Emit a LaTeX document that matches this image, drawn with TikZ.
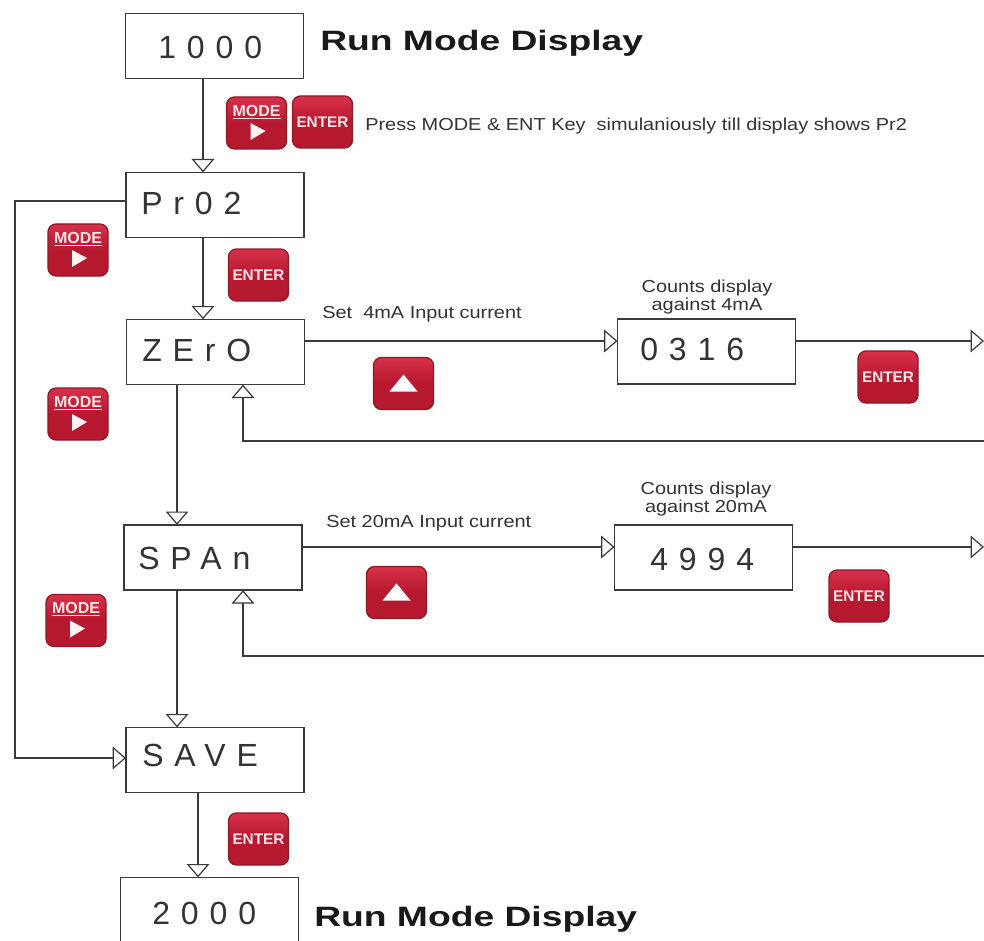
\documentclass[tikz,border=0pt]{standalone}
\usepackage{fontspec}
\setmainfont{Liberation Sans}
\newfontfamily\headfont{Liberation Sans}
\newfontfamily\dispfont[LetterSpace=34]{Liberation Sans}
\usetikzlibrary{arrows.meta,shapes.geometric,calc}
\definecolor{btnred}{HTML}{B5182F}
\definecolor{btndark}{HTML}{8E1A28}
\definecolor{btnlight}{HTML}{D8304A}
\definecolor{linegray}{HTML}{3A3A3A}
\definecolor{txtgray}{HTML}{333333}
\tikzset{
  x=0.75pt,y=-0.75pt,
  dispbox/.style={draw=linegray,line width=1.1pt,fill=white,minimum width=133.5pt,minimum height=49pt,inner sep=0pt,outer sep=0pt},
  disptext/.style={font=\dispfont\fontsize{24}{24}\selectfont,text=txtgray,anchor=west,inner sep=0pt},
  conn/.style={draw=linegray,line width=1pt,-{Triangle[open,fill=white,length=10pt,width=17pt,line width=0.9pt]}},
  btn/.style={draw=btndark,line width=1pt,rounded corners=6pt,top color=btnlight,bottom color=btnred,middle color=btnred,minimum width=45pt,minimum height=39pt,inner sep=0pt,text=white!90!red},
  entertxt/.style={font=\bfseries\fontsize{11.5}{11.5}\selectfont},
  modetxt/.style={font=\bfseries\fontsize{12}{12}\selectfont,text=white!90!red},
  note/.style={font=\fontsize{13}{13}\selectfont,text=txtgray,inner sep=0pt,align=center},
  head/.style={font=\headfont\bfseries\fontsize{21}{21}\selectfont,text=black!90,anchor=west,inner sep=0pt},
}
\newcommand{\modebtn}[2]{%
  \node[btn] (#1) at (#2) {};
  \node[modetxt] (#1t) at ($(#1.center)+(0,-11)$) {\underline{MODE}};
  \fill[white!95!red] ($(#1.center)+(-6,0)$) -- ($(#1.center)+(9,8)$) -- ($(#1.center)+(-6,17)$) -- cycle;
}
\newcommand{\enterbtn}[2]{%
  \node[btn,entertxt] (#1) at (#2) {ENTER};
}
\newcommand{\upbtn}[2]{%
  \node[btn] (#1) at (#2) {};
  \fill[white] ($(#1.center)+(-14,8)$) -- ($(#1.center)+(0,-9)$) -- ($(#1.center)+(14,8)$) -- cycle;
}
\newcommand{\wide}[1]{\scalebox{1.15}[1]{#1}}
\begin{document}
\begin{tikzpicture}
\useasboundingbox (0,0) rectangle (984,941);
\clip (0,0) rectangle (984,941);
\fill[white] (0,0) rectangle (984,941);
% display boxes
\node[dispbox] (run1) at (214.5,46) {};
\node[dispbox] (pr) at (215,205) {};
\node[dispbox] (zero) at (215.5,352) {};
\node[dispbox] (cnt4) at (706.5,351.5) {};
\node[dispbox] (span) at (213,557.5) {};
\node[dispbox] (cnt20) at (703.5,557.5) {};
\node[dispbox] (save) at (215,760) {};
\node[dispbox] (run2) at (209.5,910) {};
\node[disptext] (t1) at (158,47) {1000};
\node[disptext] (t2) at (141,203) {Pr02};
\node[disptext] (t3) at (142,350) {ZErO};
\node[disptext] (t4) at (640,349) {0316};
\node[disptext] (t5) at (138,558) {SPAn};
\node[disptext] (t6) at (650,559) {4994};
\node[disptext] (t7) at (142,755) {SAVE};
\node[disptext] (t8) at (152,913) {2000};
% free ends
\coordinate (out4) at (984,341);
\coordinate (back4) at (984,441);
\coordinate (out20) at (984,547);
\coordinate (back20) at (984,656);
% connectors
\draw[conn] (run1.south -| 203,0) -- (pr.north -| 203,0);
\draw[conn] (pr.south -| 203,0) -- (zero.north -| 203,0);
\draw[conn] (zero.south -| 177,0) -- (span.north -| 177,0);
\draw[conn] (span.south -| 177,0) -- (save.north -| 177,0);
\draw[conn] (save.south -| 198,0) -- (run2.north -| 198,0);
\draw[conn] (pr.west |- 0,201) -- (15,201) -- (15,758) -- (save.west |- 0,758);
\draw[conn] (zero.east |- 0,341) -- (cnt4.west |- 0,341);
\draw[conn] (cnt4.east |- 0,341) -- (out4);
\draw[conn] (back4) -- (243,441) -- (zero.south -| 243,0);
\draw[conn] (span.east |- 0,547) -- (cnt20.west |- 0,547);
\draw[conn] (cnt20.east |- 0,547) -- (out20);
\draw[conn] (back20) -- (243,656) -- (span.south -| 243,0);
% buttons
\modebtn{m1}{256.5,123}
\enterbtn{e1}{322.5,122}
\modebtn{m2}{78,250}
\enterbtn{e2}{258.5,275}
\modebtn{m3}{78,414}
\upbtn{u1}{403.5,383.5}
\enterbtn{e3}{888,377}
\modebtn{m4}{76,620.5}
\upbtn{u2}{396.5,592.5}
\enterbtn{e4}{859,596}
\enterbtn{e5}{258.5,839}
% texts
\node[head] (h1) at (320,43) {\scalebox{1.33}[1]{Run Mode Display}};
\node[head] (h2) at (314,919) {\scalebox{1.33}[1]{Run Mode Display}};
\node[note,anchor=west] (n1) at (365,126) {\wide{Press MODE \& ENT Key\ \ simulaniously till display shows Pr2}};
\node[note,anchor=west] (n2) at (322,314) {\wide{Set\ \ 4mA Input current}};
\node[note,anchor=west] (n3) at (326,523) {\wide{Set 20mA Input current}};
\node[note] (n4) at (707,297) {\wide{Counts display}\\\wide{against 4mA}};
\node[note] (n5) at (706,499) {\wide{Counts display}\\\wide{against 20mA}};
\end{tikzpicture}
\end{document}
